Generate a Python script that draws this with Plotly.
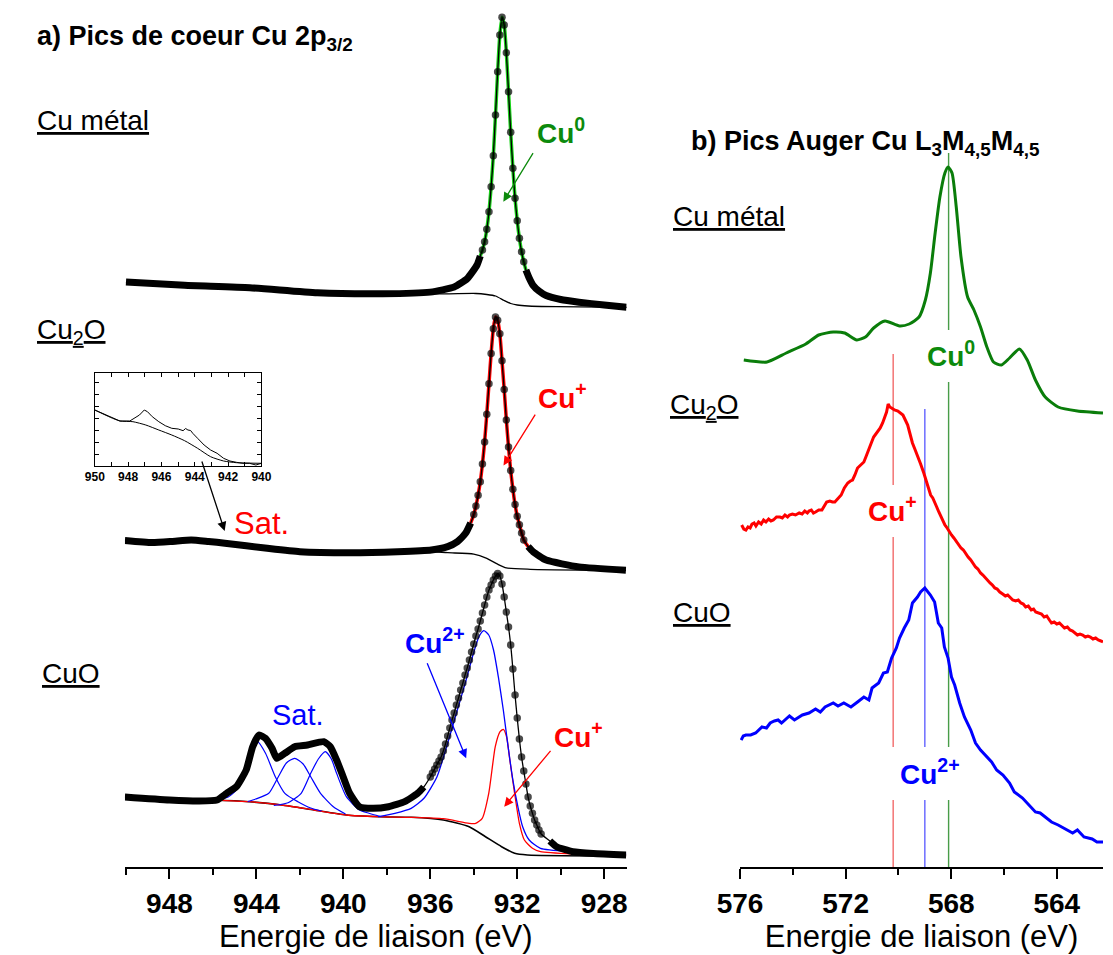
import plotly.graph_objects as go

W, H = 1113, 955
PLOT_H = 867          # height of the plotting area in px (axis line at its bottom)
FONT = "Liberation Sans, Arial, sans-serif"

# ------------------------------------------------------------------
# a) XPS Cu 2p3/2 core levels  (binding energy in eV, intensity in a.u.)
# ------------------------------------------------------------------
cu_be = [950.0, 947.3, 944.3, 941.2, 938.2, 936.0, 934.9, 934.3, 933.85, 933.7,
         933.6, 933.5, 933.4, 933.3, 933.2, 933.1, 933.0, 932.9, 932.8, 932.7,
         932.6, 932.5, 932.4, 932.3, 932.2, 932.1, 932.0, 931.9, 931.8, 931.7, 931.6,
         931.45, 931.27, 931.0, 930.67, 930.0, 929.16, 928.0, 926.97]
cu_int = [35, 31.7, 29.3, 24.2, 23.2, 24.9, 30, 38.4, 52, 61,
          67, 75.3, 87.7, 105.3, 130.3, 161.3, 202, 245.3, 282, 299.7,
          292, 264.3, 225.3, 184.7, 148.7, 118.7, 96.3, 78.7, 65.3, 55.3, 47,
          39, 31.7, 26, 21.5, 17.5, 14.8, 12, 9.7]
cu_bg_be = [950.0, 947.3, 944.3, 941.2, 938.2, 935.2, 933.9, 933.4, 933.0, 932.6,
            932.3, 932.0, 931.5, 930.2, 926.97]
cu_bg = [35, 31.7, 29.3, 24.2, 23.2, 23.2, 23.5, 22.5, 21, 16.5,
         13.5, 12, 11, 10.3, 9.7]

cu2o_be = [950.05, 948.8, 947.9, 947.0, 946.2, 945.45, 943.5, 942.0, 939.7, 937.5,
           935.95, 935.2, 934.75, 934.37, 934.14,
           934.0, 933.9, 933.8, 933.7, 933.6, 933.5, 933.4, 933.3, 933.2, 933.1,
           933.0, 932.9, 932.8, 932.7, 932.6, 932.5, 932.4, 932.3, 932.2, 932.1,
           932.0, 931.9, 931.8, 931.7,
           931.5, 931.27, 930.67, 929.16, 927.0]
cu2o_int = [36.5, 34.4, 35.5, 37.1, 35.5, 33.8, 28.7, 25.3, 24.3, 25.3,
            27, 30.4, 35.4, 43.9, 54,
            62.5, 70.9, 81.7, 95.2, 113.1, 135.1, 162.8, 193.2, 223.6, 248.3,
            260.1, 256.7, 243.2, 216.2, 187.5, 157.1, 130, 106.4, 87.8, 72.6,
            60.8, 52.3, 43.9, 37.1,
            30.5, 25.3, 16.9, 10.1, 6.7]
cu2o_bg_be = [950.05, 948.8, 947.9, 947.0, 946.2, 945.45, 943.5, 942.0, 939.7, 937.5,
              935.95, 935.2, 934.0, 933.4, 932.9, 932.5, 931.4, 927.0]
cu2o_bg = [36.5, 34.4, 35, 35.5, 34.5, 33.3, 28.7, 25.3, 24.3, 25.3,
           25.5, 24.3, 22.9, 18.6, 12.8, 9.1, 7.7, 6.7]

cuo_be = [950.05, 948.0, 946.65, 945.81, 945.37, 944.92, 944.47, 944.17, 943.88, 943.58,
          943.28, 943.06, 942.69, 942.24, 941.65, 940.9, 940.6, 940.31, 940.01, 939.71,
          939.26, 938.67, 937.92, 937.18, 936.58, 936.3,
          936.0, 935.9, 935.8, 935.7, 935.6, 935.5, 935.4, 935.3, 935.2, 935.1,
          935.0, 934.9, 934.8, 934.7, 934.6, 934.5, 934.4, 934.3, 934.2, 934.1,
          934.0, 933.9, 933.8, 933.7, 933.6, 933.5, 933.4, 933.3, 933.2, 933.1,
          933.0, 932.9, 932.8, 932.7, 932.6, 932.5, 932.4, 932.3, 932.2, 932.1,
          932.0, 931.9, 931.8, 931.7, 931.6, 931.5, 931.4, 931.3, 931.2, 931.1,
          931.0, 930.9,
          930.5, 930.19, 929.44, 928.5, 926.99]
cuo_int = [70, 67, 66, 67, 73.7, 80.3, 97, 120.3, 132, 128.7,
           118.7, 108.7, 113.7, 120.3, 122, 125.3, 120.3, 107, 90.3, 73.7,
           60.3, 58.7, 60.3, 65.3, 73.7, 80,
           90, 94, 98, 102, 106, 110, 116, 123, 131, 139,
           147, 154, 162, 169, 177, 184, 192, 199, 207, 215,
           223, 231, 238, 246, 254, 262, 270, 277, 282, 287,
           291, 293.5, 291, 283, 270, 255, 240, 222, 198, 172,
           149, 128, 110, 96, 83, 70, 61, 53.7, 47, 42,
           37, 33,
           26, 20.3, 15.3, 13.5, 12]
cuo_bg_be = [950.05, 948.0, 946.0, 944.33, 942.83, 941.35, 939.86, 938.37, 936.88, 935.4,
             934.21, 933.46, 932.72, 932.12, 931.53, 926.99]
cuo_bg = [70, 68, 67, 65.3, 62, 57, 52, 50.3, 49.7, 47,
          40.3, 30.3, 20.3, 13.7, 12, 11]
cuo_cu2_be = [938.4, 937.63, 936.88, 936.29, 935.69, 935.25, 934.8, 934.35, 934.06, 933.76,
              933.54, 933.31, 933.09, 932.87, 932.64, 932.42, 932.2, 931.97, 931.75, 931.45,
              930.93, 929.44, 926.99]
cuo_cu2 = [50.3, 53.7, 58.7, 68.7, 90.3, 120.3, 153.7, 187, 210.3, 230.3,
           236.3, 232, 217, 190.3, 157, 120.3, 87, 60.3, 40.3, 27,
           18.7, 15.3, 13]
cuo_cu1_be = [950.05, 946.0, 944.33, 942.83, 941.35, 939.86, 938.37, 936.88, 935.4, 934.21,
              933.91, 933.61, 933.31, 933.01, 932.79, 932.64, 932.49, 932.34, 932.12, 931.9,
              931.67, 931.3, 930.93, 929.44, 926.99]
cuo_cu1 = [70, 67, 65.3, 62, 57, 52, 50.3, 49.7, 48.3, 43.7,
           43.7, 48.7, 73.7, 120.3, 135.3, 137.7, 130.3, 107, 73.7, 43.7,
           27, 18.7, 15.3, 13, 12]
sat1_be = [946.5, 945.8, 945.3, 944.92, 944.6, 944.33, 943.95, 943.58, 943.13, 942.69,
           942.09, 941.5, 941.0]
sat1 = [66.5, 67.5, 70, 77, 92, 110.3, 125.3, 113.7, 90.3, 73.7,
        65.3, 59, 56]
sat2_be = [944.4, 944.03, 943.43, 942.99, 942.62, 942.24, 941.85, 941.5, 941.05, 940.46, 939.9]
sat2 = [65.5, 68, 73.7, 90.3, 104, 108.7, 103, 90.3, 73.7, 60.3, 53]
sat3_be = [943.2, 942.54, 941.94, 941.5, 941.15, 940.83, 940.55, 940.31, 939.86, 939.26,
           938.82, 938.3]
sat3 = [61.5, 64.3, 73.7, 93.7, 108, 115.3, 108, 93.7, 70.3, 57,
        53.7, 50.5]

# inset: Cu2O satellite region
ins_be = [950.0, 949.65, 949.07, 948.49, 947.9, 947.61, 947.32, 947.03, 946.84, 946.55,
          946.16, 945.77, 945.38, 944.99, 944.7, 944.55, 944.41, 944.25, 944.12, 943.83,
          943.44, 943.05, 942.66, 942.27, 941.89, 941.5, 941.11, 940.72, 940.33, 940.0]
ins_int = [56, 53.3, 49.3, 45, 45, 47.7, 51, 56, 54.3, 49.3,
           44.3, 40.3, 37.7, 37, 35.3, 37.5, 36, 35.5, 32.7, 27.7,
           21, 16, 12.7, 7.7, 5, 3.7, 2.7, 2.7, 1, 2.7]
ins_bg_be = [950.0, 949.07, 948.49, 947.71, 946.94, 946.16, 945.38, 944.61, 943.83, 943.05,
             942.27, 941.5, 940.0]
ins_bg = [56, 48.7, 45, 44.3, 41, 36, 31, 25.3, 17.7, 9.3,
          5, 3.3, 2.7]
ins_tickvals = [950, 949, 948, 947, 946, 945, 944, 943, 942, 941, 940]
ins_ticktext = ["950", "", "948", "", "946", "", "944", "", "942", "", "940"]

# ------------------------------------------------------------------
# b) Auger Cu L3M4,5M4,5
# ------------------------------------------------------------------
aug_met_be = [575.86, 574.98, 574.25, 573.51, 573.02, 572.47, 572.04, 571.58, 571.25, 570.94,
              570.51, 569.96, 569.59, 569.22, 568.98, 568.79, 568.61, 568.43, 568.24, 568.12,
              567.97, 567.81, 567.63, 567.38, 567.14, 566.89, 566.65, 566.4, 566.1, 565.79,
              565.42, 565.12, 564.81, 564.44, 563.95, 563.22, 562.25]
aug_met = [57, 55, 64, 73, 82, 85, 84, 77, 80, 89,
           96, 91, 93, 100, 117, 144, 184, 220, 244, 250,
           244, 210, 160, 120, 107, 90, 70, 55, 52, 59,
           68, 57, 37, 20, 10, 6, 4]

aug_cu2o_be = [575.94, 575.86, 575.78, 575.7, 575.62, 575.55, 575.47, 575.4, 575.3, 575.2,
               575.11, 575.02, 574.92, 574.83, 574.74, 574.62, 574.49, 574.4, 574.3, 574.2,
               574.13, 574.02, 573.9, 573.76, 573.65, 573.55, 573.45, 573.39, 573.3, 573.22,
               573.14, 573.02, 572.9, 572.8, 572.72, 572.6, 572.5, 572.41, 572.3, 572.17,
               572.05, 571.92, 571.82, 571.74, 571.65, 571.55, 571.43, 571.31, 571.22, 571.12,
               571.03, 570.94, 570.82, 570.69, 570.6, 570.51, 570.45, 570.39, 570.33, 570.26,
               570.15, 570.02, 569.92, 569.83, 569.74, 569.65, 569.56, 569.47, 569.38, 569.28,
               569.16, 569.04, 568.95, 568.86, 568.78, 568.7, 568.62, 568.55, 568.47, 568.4,
               568.32, 568.24, 568.18, 568.12, 568.05, 567.99, 567.9, 567.82, 567.72, 567.63,
               567.54, 567.45, 567.36, 567.26, 567.17, 567.08, 566.99, 566.89, 566.8, 566.71,
               566.62, 566.53, 566.44, 566.35, 566.26, 566.16, 566.05, 565.95, 565.86, 565.76,
               565.67, 565.56, 565.46, 565.36, 565.27, 565.18, 565.08, 564.97, 564.88, 564.8,
               564.69, 564.58, 564.48, 564.38, 564.28, 564.2, 564.1, 564.0, 563.9, 563.8,
               563.71, 563.6, 563.5, 563.4, 563.3, 563.22, 563.12, 563.02, 562.92, 562.82,
               562.73, 562.63, 562.53, 562.43, 562.33, 562.25]
aug_cu2o = [122, 118, 117, 120, 119, 123, 124, 121, 125, 123,
            127, 125, 128, 126, 127, 130, 130, 129, 132, 130,
            132, 133, 132, 134, 133, 136, 134, 136, 137, 134,
            135, 137, 137, 142, 145, 146, 145, 145, 148, 152,
            159, 164, 166, 167, 172, 179, 182, 185, 191, 197,
            204, 210, 214, 219, 224, 230, 235, 243, 240, 239,
            237, 236, 234, 232, 227, 222, 213, 204, 198, 192,
            183, 174, 166, 157, 152, 149, 143, 140, 135, 131,
            126, 122, 120, 117, 115, 112, 109, 106, 102, 99,
            97, 93, 90, 87, 83, 80, 78, 74, 72, 69,
            66, 64, 62, 59, 58, 55, 53, 51, 52, 49,
            47, 46, 47, 44, 43, 40, 41, 37, 38, 35,
            34, 33, 30, 31, 27, 24, 25, 23, 24, 21,
            19, 20, 17, 16, 14, 12, 13, 12, 10, 11,
            10, 8, 9, 7, 6, 5]

aug_cuo_be = [575.96, 575.88, 575.78, 575.6, 575.41, 575.17, 575.0, 574.86, 574.7, 574.56,
              574.43, 574.13, 573.94, 573.64, 573.39, 573.14, 572.96, 572.78, 572.47, 572.29,
              572.07, 571.8, 571.55, 571.31, 571.12, 571.0, 570.75, 570.57, 570.42, 570.26,
              570.08, 569.96, 569.78, 569.61, 569.47, 569.28, 569.16, 569.0, 568.79, 568.63,
              568.49, 568.36, 568.26, 568.12, 567.99, 567.87, 567.68, 567.5, 567.26, 567.08,
              566.89, 566.65, 566.47, 566.28, 566.04, 565.79, 565.61, 565.3, 564.99, 564.81,
              564.63, 564.44, 564.2, 563.95, 563.65, 563.4, 563.22, 562.97, 562.66, 562.48,
              562.25]
aug_cuo = [127, 131, 132, 132, 134, 140, 139, 144, 146, 147,
           144, 151, 147, 152, 154, 158, 155, 160, 164, 161,
           164, 160, 165, 170, 167, 179, 184, 194, 195, 209,
           219, 229, 239, 247, 264, 270, 275, 279, 272, 265,
           244, 239, 220, 209, 190, 182, 164, 150, 137, 124,
           117, 110, 105, 97, 92, 84, 75, 69, 60, 55,
           54, 50, 45, 42, 38, 34, 37, 30, 28, 25,
           25]

# Auger peak maxima of the three oxidation states
auger_ref_be = {"Cu+": 570.2, "Cu2+": 569.0, "Cu0": 568.1}

# ------------------------------------------------------------------
# stacking offsets and display styles
# ------------------------------------------------------------------
xps_offset = {"met": 550, "cu2o": 290, "cuo": 0}
aug_offset = {"met": 450, "cu2o": 220, "cuo": 0}
bead_range = {"met": (933.65, 931.65), "cu2o": (934.05, 931.65), "cuo": (936.05, 930.85)}
ref_line_spans = {"Cu+": [(513, 382), (330, 120), (67, 0)],
                  "Cu2+": [(458, 120), (67, 0)],
                  "Cu0": [(714, 537), (485, 120), (67, 0)]}
ref_line_color = {"Cu+": "rgba(240,80,80,0.85)", "Cu2+": "rgba(70,70,255,0.85)",
                  "Cu0": "rgba(40,140,40,0.85)"}

GREEN_FIT = "#19d219"
DARK_GREEN = "#0a7d0a"
LABEL_GREEN = "#0c8a0c"
RED = "#ff0000"
BLUE = "#0000ff"

fig = go.Figure()


def shifted(vals, off):
    return [v + off for v in vals]


def line(xs, ys, color, width, xa="x", ya="y", shape="spline"):
    fig.add_trace(go.Scatter(x=xs, y=ys, mode="lines", xaxis=xa, yaxis=ya,
                             line=dict(color=color, width=width, shape=shape,
                                       smoothing=0.6),
                             hoverinfo="skip", showlegend=False))


def xps_points(be, vals, off, rng):
    """Measured points: separate dots on steep flanks, merged into a band elsewhere."""
    y = shifted(vals, off)
    inside = [rng[1] <= b <= rng[0] for b in be]
    thick = [None if i else v for i, v in zip(inside, y)]
    fig.add_trace(go.Scatter(x=be, y=thick, mode="lines", connectgaps=False,
                             line=dict(color="black", width=7, shape="spline",
                                       smoothing=0.5),
                             hoverinfo="skip", showlegend=False))
    fig.add_trace(go.Scatter(x=be, y=y, mode="markers",
                             marker=dict(color="black", line=dict(width=0),
                                         size=[7.5 if i else 0 for i in inside]),
                             hoverinfo="skip", showlegend=False))


def in_range(be, vals, rng):
    pts = [(b, v) for b, v in zip(be, vals) if rng[1] - 0.15 <= b <= rng[0] + 0.15]
    return [p[0] for p in pts], [p[1] for p in pts]


# Cu metal
o = xps_offset["met"]
line(cu_bg_be, shifted(cu_bg, o), "black", 1.3)
gx, gy = in_range(cu_be, cu_int, bead_range["met"])
line(gx, shifted(gy, o), GREEN_FIT, 3.5)
line(cu_be, shifted(cu_int, o), "black", 1.3)
xps_points(cu_be, cu_int, o, bead_range["met"])

# Cu2O
o = xps_offset["cu2o"]
line(cu2o_bg_be, shifted(cu2o_bg, o), "black", 1.3)
rx, ry = in_range(cu2o_be, cu2o_int, bead_range["cu2o"])
line(rx, shifted(ry, o), RED, 3.5)
line(cu2o_be, shifted(cu2o_int, o), "black", 1.3)
xps_points(cu2o_be, cu2o_int, o, bead_range["cu2o"])

# CuO
o = xps_offset["cuo"]
line(cuo_bg_be, shifted(cuo_bg, o), "black", 1.6)
line(cuo_cu1_be, shifted(cuo_cu1, o), RED, 1.3)
line(cuo_cu2_be, shifted(cuo_cu2, o), BLUE, 1.3)
for sb, sv in ((sat1_be, sat1), (sat2_be, sat2), (sat3_be, sat3)):
    line(sb, shifted(sv, o), BLUE, 1.2)
line(cuo_be, shifted(cuo_int, o), "black", 1.3)
xps_points(cuo_be, cuo_int, o, bead_range["cuo"])

# inset
line(ins_bg_be, ins_bg, "black", 1.0, xa="x3", ya="y3")
line(ins_be, ins_int, "black", 1.0, xa="x3", ya="y3", shape="linear")

# Auger reference lines
for name, spans in ref_line_spans.items():
    xs, ys = [], []
    for top, bot in spans:
        xs += [auger_ref_be[name], auger_ref_be[name], None]
        ys += [top, bot, None]
    fig.add_trace(go.Scatter(x=xs, y=ys, mode="lines", xaxis="x2", yaxis="y2",
                             line=dict(color=ref_line_color[name], width=1.4),
                             hoverinfo="skip", showlegend=False))

# Auger spectra
line(aug_met_be, shifted(aug_met, aug_offset["met"]), DARK_GREEN, 3, xa="x2", ya="y2")
line(aug_cu2o_be, shifted(aug_cu2o, aug_offset["cu2o"]), RED, 3, xa="x2", ya="y2",
     shape="linear")
line(aug_cuo_be, shifted(aug_cuo, aug_offset["cuo"]), BLUE, 3, xa="x2", ya="y2",
     shape="linear")

# ------------------------------------------------------------------
# annotations
# ------------------------------------------------------------------
ann = []


def px(x, y):
    return x / W, (PLOT_H - y) / PLOT_H


def label(text, x, y, size=28, color="black", bold=False):
    xp, yp = px(x, y)
    ann.append(dict(text=text, x=xp, y=yp, xref="paper", yref="paper",
                    xanchor="left", yanchor="middle", showarrow=False,
                    font=dict(family=FONT, size=size, color=color,
                              weight="bold" if bold else "normal")))


def arrow(tail, tip, color, xa="x", ya="y"):
    ann.append(dict(text="", x=tip[0], y=tip[1], ax=tail[0], ay=tail[1],
                    xref=xa, yref=ya, axref=xa, ayref=ya, showarrow=True,
                    arrowhead=2, arrowsize=1.4, arrowwidth=1.3, arrowcolor=color,
                    standoff=0, startstandoff=0))


label("a) Pics de coeur Cu 2p<sub>3/2</sub>", 12, 38, size=27, bold=True)
label("b) Pics Auger Cu L<sub>3</sub>M<sub>4,5</sub>M<sub>4,5</sub>", 686, 143, size=27, bold=True)
label("<u>Cu métal</u>", 12, 120)
label("<u>Cu<sub>2</sub>O</u>", 12, 331)
label("<u>CuO</u>", 18, 673)
label("<u>Cu métal</u>", 668, 216)
label("<u>Cu<sub>2</sub>O</u>", 665, 406)
label("<u>CuO</u>", 668, 612)

label("Cu<sup>0</sup>", 528, 131, color=LABEL_GREEN, bold=True)
label("Cu<sup>+</sup>", 529, 396, color=RED, bold=True)
label("Sat.", 215, 523, size=31, color=RED)
label("Cu<sup>2+</sup>", 392, 641, color=BLUE, bold=True)
label("Sat.", 255, 715, size=29, color=BLUE)
label("Cu<sup>+</sup>", 545, 735, color=RED, bold=True)
label("Cu<sup>0</sup>", 930, 354, color=LABEL_GREEN, bold=True)
label("Cu<sup>+</sup>", 869, 509, color=RED, bold=True)
label("Cu<sup>2+</sup>", 902, 772, color=BLUE, bold=True)

arrow((931.23, 715.3), (932.64, 665.3), LABEL_GREEN)
arrow((931.13, 453.8), (932.63, 401.5), RED)
arrow((936.17, 205.3), (934.35, 108.7), BLUE)
arrow((930.41, 117.7), (932.60, 60.3), RED)
arrow((946.53, 407), (945.46, 336), "black")

# ------------------------------------------------------------------
# axes
# ------------------------------------------------------------------
xcommon = dict(showline=True, linecolor="black", linewidth=2, ticks="outside",
               ticklen=10, tickwidth=2, tickcolor="black", showgrid=False,
               zeroline=False, dtick=4, tick0=0,
               minor=dict(dtick=2, ticklen=6, tickwidth=2, tickcolor="black",
                          ticks="outside", showgrid=False),
               tickfont=dict(family=FONT, size=28, color="black", weight="bold"),
               title=dict(text="Energie de liaison (eV)", standoff=6,
                          font=dict(family=FONT, size=31, color="black")))
ycommon = dict(visible=False, range=[0, PLOT_H], domain=[0, 1], fixedrange=True)

fig.update_layout(
    width=W, height=H, margin=dict(l=0, r=0, t=0, b=H - PLOT_H),
    paper_bgcolor="white", plot_bgcolor="white", showlegend=False,
    xaxis=dict(domain=[105 / W, 622 / W], range=[950.05, 926.97], anchor="y", **xcommon),
    yaxis=dict(anchor="x", **ycommon),
    xaxis2=dict(domain=[739 / W, 1.0], range=[576, 562.25], anchor="y2", **xcommon),
    yaxis2=dict(anchor="x2", **ycommon),
    xaxis3=dict(domain=[74 / W, 245.7 / W], range=[950, 940], anchor="y3",
                showline=True, mirror="ticks", linecolor="black", linewidth=1,
                ticks="inside", ticklen=4, tickwidth=1, tickcolor="black",
                tickvals=ins_tickvals, ticktext=ins_ticktext, showgrid=False,
                zeroline=False,
                tickfont=dict(family=FONT, size=12, color="black", weight="bold")),
    yaxis3=dict(domain=[(PLOT_H - 466) / PLOT_H, (PLOT_H - 372.7) / PLOT_H],
                range=[0, 93.3], anchor="x3", showline=True, mirror="ticks",
                linecolor="black", linewidth=1, ticks="inside", ticklen=4,
                tickwidth=1, tickcolor="black", dtick=12, showticklabels=False,
                showgrid=False, zeroline=False),
    annotations=ann,
)

fig.write_html("out.html")
